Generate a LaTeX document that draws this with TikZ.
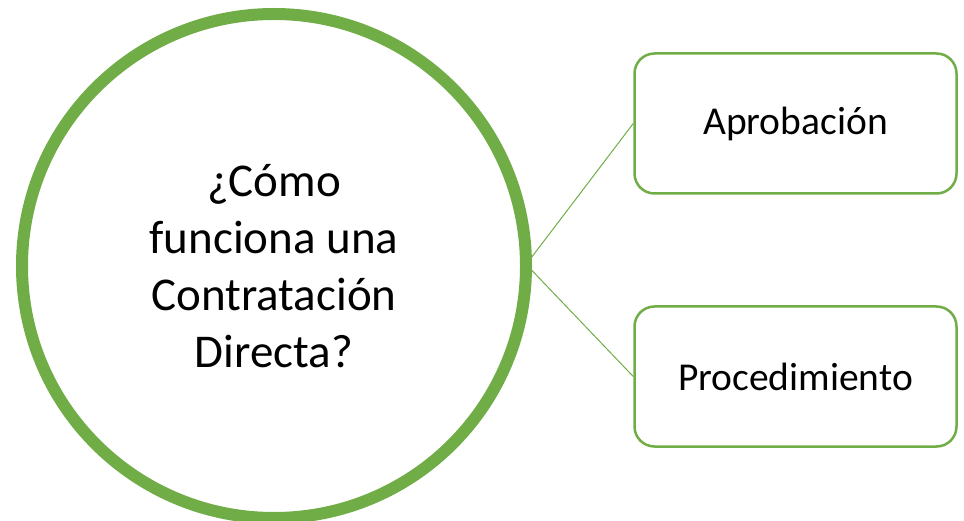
\documentclass[tikz,border=0pt]{standalone}
\usepackage{fontspec}
\setmainfont{Carlito}
\usepackage{tikz}
\usetikzlibrary{positioning}
\definecolor{leafgreen}{RGB}{112,173,71}

\begin{document}
\begin{tikzpicture}[x=1pt,y=1pt,
  hub/.style={circle,draw=leafgreen,line width=12pt,minimum size=504pt,inner sep=0pt,
    align=center,font=\fontsize{47}{57}\selectfont},
  leaf/.style={rectangle,rounded corners=20pt,draw=leafgreen,line width=2.5pt,
    minimum width=322pt,minimum height=140pt,font=\fontsize{39.5}{47}\selectfont},
  link/.style={leafgreen,line width=1pt}]
\useasboundingbox (0,0) rectangle (964,-521);
% central question
\node[hub] (hub) at (274,-266) {¿Cómo\\funciona una\\Contratación\\Directa?};
% the two branches
\node[leaf] (aprob) at (795.5,-123.5) {Aprobación};
\node[leaf] (proc) at (795.5,-376.5) {Procedimiento};
\draw[link] (hub.2) -- (aprob.west);
\draw[link] (hub.-1) -- (proc.west);
\end{tikzpicture}
\end{document}
